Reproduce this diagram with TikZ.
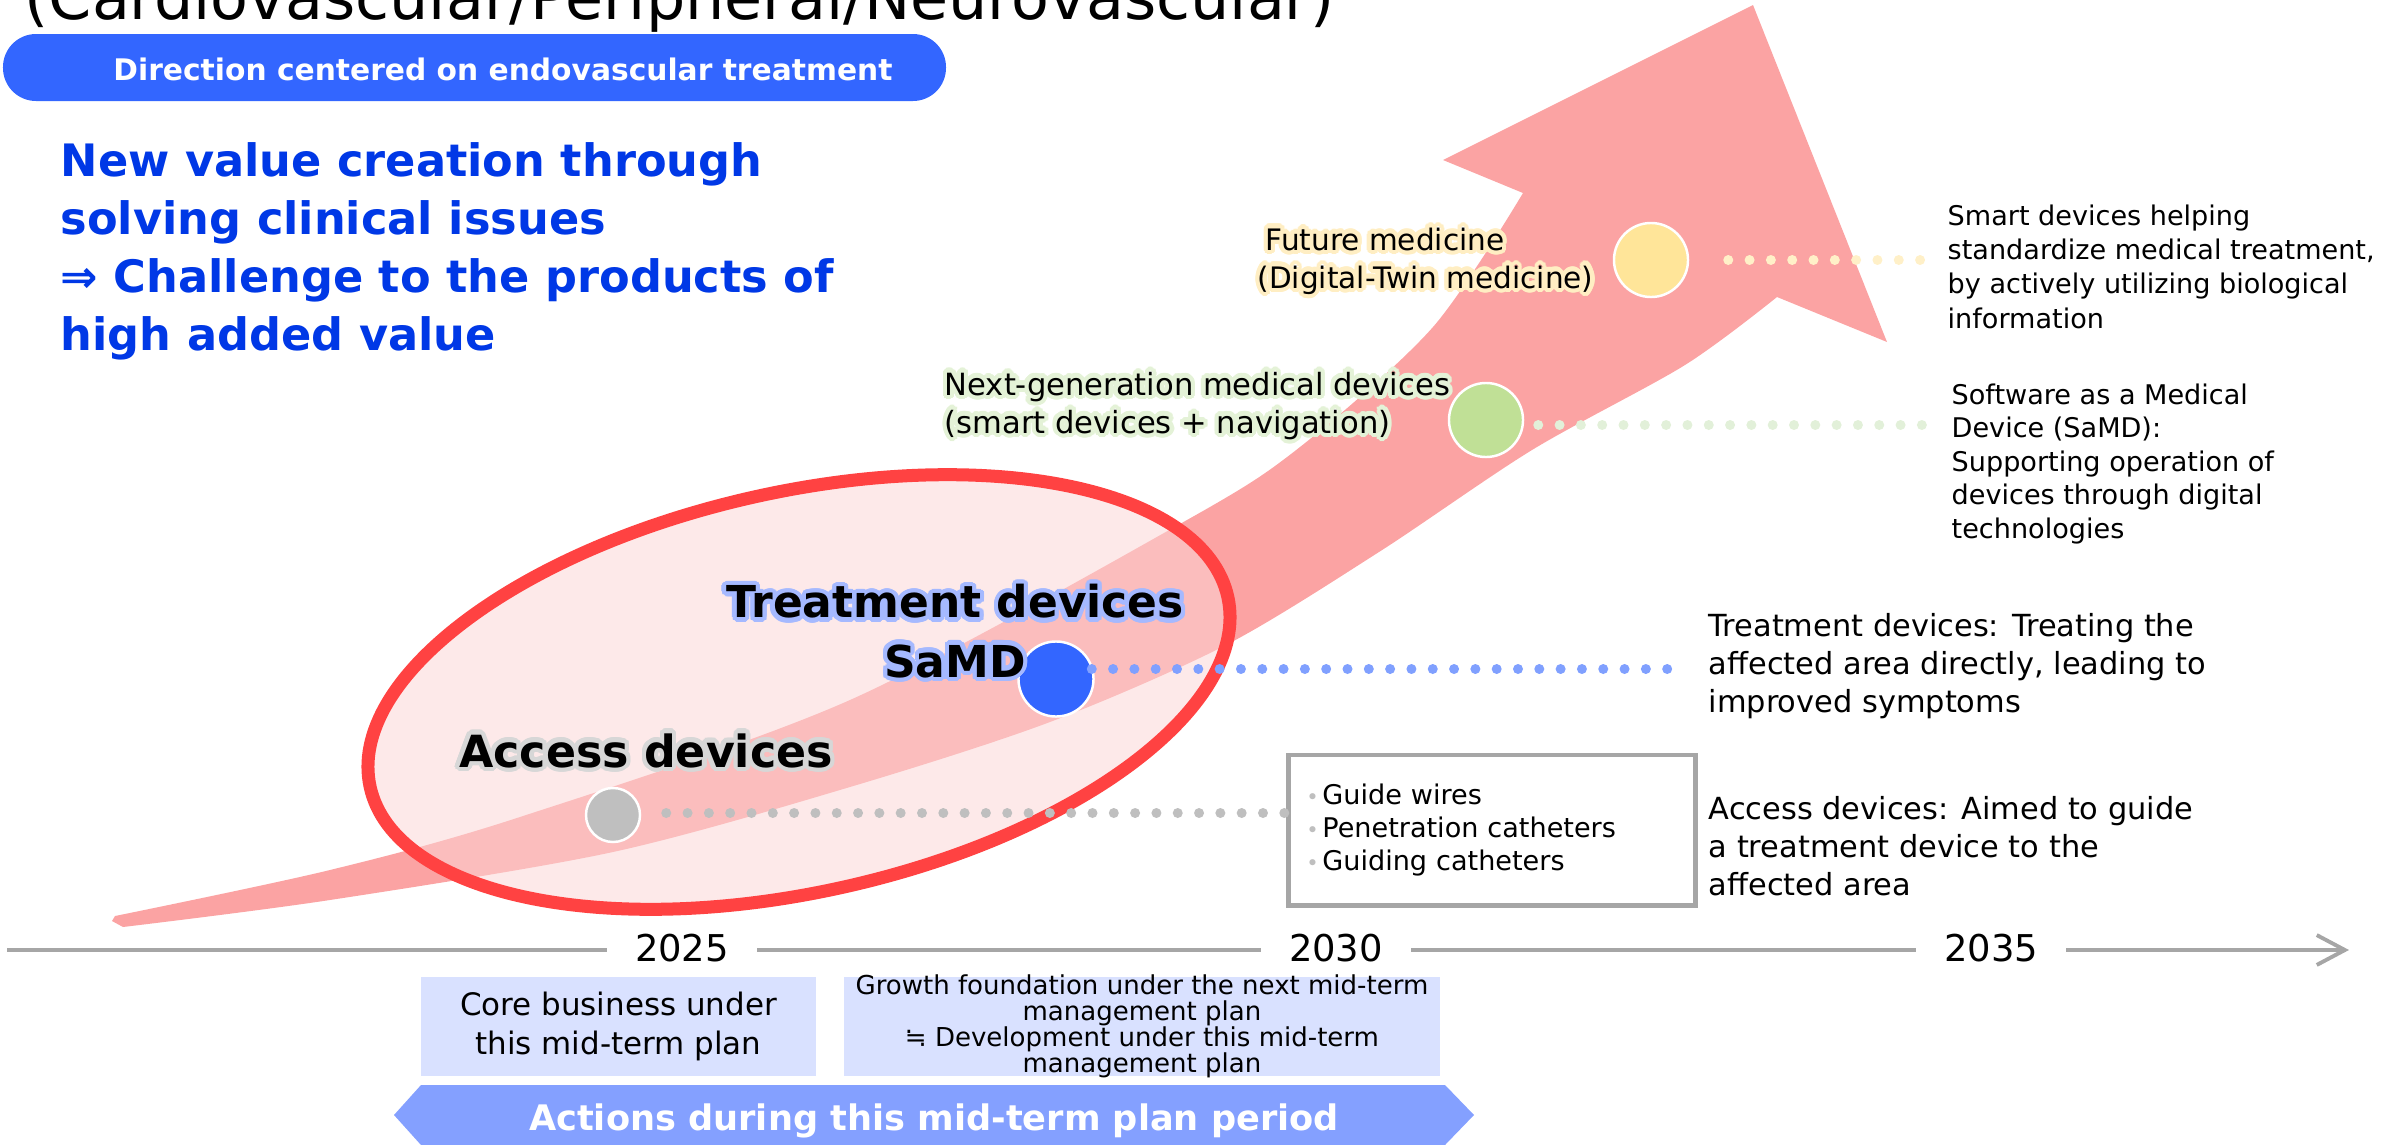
\documentclass[tikz,border=0pt]{standalone}
\usepackage{fontspec}
\setmainfont{DejaVu Sans}
\usepackage[copies]{contour}
\usetikzlibrary{arrows.meta,calc}
\definecolor{band}{RGB}{251,163,163}
\definecolor{ellred}{RGB}{255,66,66}
\definecolor{ellfill}{RGB}{251,213,213}
\definecolor{pill}{RGB}{51,102,255}
\definecolor{headblue}{RGB}{0,56,230}
\definecolor{accgrey}{RGB}{191,191,191}
\definecolor{trtblue}{RGB}{51,102,255}
\definecolor{nextgreen}{RGB}{192,224,150}
\definecolor{futyellow}{RGB}{255,229,153}
\definecolor{trtdot}{RGB}{128,160,255}
\definecolor{nextdot}{RGB}{226,240,217}
\definecolor{futdot}{RGB}{255,240,200}
\definecolor{trtglow}{RGB}{165,185,255}
\definecolor{accglow}{RGB}{215,215,215}
\definecolor{futglow}{RGB}{255,238,195}
\definecolor{nextglow}{RGB}{228,242,215}
\definecolor{boxgrey}{RGB}{166,166,166}
\definecolor{planblue}{RGB}{217,225,255}
\definecolor{actblue}{RGB}{132,160,255}
\newcommand{\fsz}[2]{\fontsize{#1}{#2}\selectfont}
\newcommand{\bul}{\makebox[0.16cm][l]{\textcolor{accgrey}{\fsz{6}{6}•}}}
\contourlength{1.2pt}
\contournumber{24}
\begin{document}
\begin{tikzpicture}[x=0.01cm,y=-0.01cm,
		desc/.style={inner sep=0pt,anchor=base west,align=left},
		dotline/.style={line width=0.1cm,line cap=round,dash pattern=on 0pt off 0.213cm},
		spot/.style={circle,draw=white,line width=0.7pt,inner sep=0pt,minimum size=0.74cm},
		year/.style={fill=white,inner xsep=0.28cm,inner ysep=1pt,anchor=base,font=\fsz{10.5}{12}},
		plan/.style={fill=planblue,minimum height=0.99cm,inner sep=0pt,align=center}]
	\useasboundingbox (0,0) rectangle (2402,1145);
	\clip (0,0) rectangle (2402,1145);

	\node[anchor=base west,inner sep=0pt,font=\fsz{17.6}{20}] (title) at (24,19) {(Cardiovascular/Peripheral/Neurovascular)};
	\fill[pill,rounded corners=0.33cm] (3,34) rectangle (946,101);
	\node[anchor=base,inner sep=0pt,text=white,font=\bfseries\fsz{8.45}{10}] (dir) at (503,80) {Direction centered on endovascular treatment};
	\node[desc,text=headblue,font=\bfseries\fsz{12.7}{16.4}] (head) at (60,350) {New value creation through\\solving clinical issues\\⇒ Challenge to the products of\\high added value};

	\fill[band] (112,921) -- plot[smooth] coordinates {(115,916) (330,870) (520,817) (850,700) (1187,520) (1300,447) (1433,327) (1523,193)}
		-- (1443,160) -- (1753,5) -- (1887,342) -- (1777,297)
		-- plot[smooth] coordinates {(1777,297) (1685,365) (1532,450) (1379,552) (1226,645) (1050,722) (850,787) (613,852) (330,900) (123,927)}
		-- cycle;
	\draw[ellred,line width=0.13cm,fill=ellfill,fill opacity=0.52,rotate around={12.5:(799,692)}] (799,692) ellipse [x radius=4.39cm,y radius=2cm];

	\node[spot,fill=accgrey,minimum size=0.54cm] (acc) at (613,815) {};
	\node[spot,fill=trtblue,minimum size=0.75cm] (trt) at (1056,679) {};
	\node[spot,fill=nextgreen] (next) at (1486,420) {};
	\node[spot,fill=futyellow] (fut) at (1651,260) {};

	\node[anchor=base,inner sep=0pt,font=\bfseries\fsz{12.6}{15}] (acclab) at (646,767) {\contour{accglow}{Access devices}};
	\node[anchor=base,inner sep=0pt,align=center,font=\bfseries\fsz{12.5}{16.8}] (trtlab) at (955,677) {\contour{trtglow}{Treatment devices}\\\contour{trtglow}{SaMD}};
	\node[desc,font=\fsz{8.7}{10.8}] (nextlab) at (944,433) {\contour{nextglow}{Next-generation medical devices}\\\contour{nextglow}{(smart devices + navigation)}};
	\node[desc,font=\fsz{8.4}{10.8}] (futlab) at (1257,288) {\hspace*{0.08cm}\contour{futglow}{Future medicine}\\\contour{futglow}{(Digital-Twin medicine)}};

	\node[draw=boxgrey,line width=1.4pt,minimum width=4.06cm,minimum height=1.5cm,text width=3.71cm,inner xsep=0.1cm,align=left,font=\fsz{7.7}{9.4}] (list) at (1492,830) {\bul Guide wires\\\bul Penetration catheters\\\bul Guiding catheters};
	\node[desc,font=\fsz{8.65}{10.7}] (accdesc) at (1708,895) {Access devices: Aimed to guide\\a treatment device to the\\affected area};
	\node[desc,font=\fsz{8.65}{10.8}] (trtdesc) at (1708,712) {Treatment devices: Treating the\\affected area directly, leading to\\improved symptoms};
	\node[desc,font=\fsz{7.7}{9.5}] (samd) at (1951,538) {Software as a Medical\\Device (SaMD):\\Supporting operation of\\devices through digital\\technologies};
	\node[desc,font=\fsz{7.7}{9.7}] (smart) at (1947,328) {Smart devices helping\\standardize medical treatment,\\by actively utilizing biological\\information};

	\draw[dotline,accgrey] ($(acc.east)+(25,-2)$) -- ($(acc.east -| list.west)+(0,-2)$);
	\draw[dotline,trtdot] ($(trt.east)+(-3,-10)$) -- ($(trt.east -| trtdesc.west)+(-29,-10)$);
	\draw[dotline,nextdot] ($(next.east)+(14,5)$) -- ($(next.east -| samd.west)+(-29,5)$);
	\draw[dotline,futdot] ($(fut.east)+(39,0)$) -- ($(fut.east -| smart.west)+(-14,0)$);

	\coordinate (t0) at (7,950);
	\coordinate (t1) at (2349,950);
	\draw[boxgrey,line width=1.1pt,-{Straight Barb[length=8pt,width=8.5pt]}] (t0) -- (t1);
	\node[year] (y25) at (682,961) {2025};
	\node[year] (y30) at (1336,961) {2030};
	\node[year] (y35) at (1991,961) {2035};

	\node[plan,minimum width=3.95cm,font=\fsz{8.8}{11.1}] (core) at (618.5,1026.5) {Core business under\\this mid-term plan};
	\node[plan,minimum width=5.96cm,inner ysep=-0.03cm,font=\fsz{7.4}{7.4}] (grow) at (1142,1026.5) {Growth foundation under the next mid-term\\management plan\\≒ Development under this mid-term\\management plan};

	\fill[actblue] (394,1115) -- (421,1085) -- (1445,1085) -- (1474,1115) -- (1445,1145) -- (421,1145) -- cycle;
	\node[anchor=base,inner sep=0pt,text=white,font=\bfseries\fsz{10}{12}] (act) at (934,1130) {Actions during this mid-term plan period};
\end{tikzpicture}
\end{document}
